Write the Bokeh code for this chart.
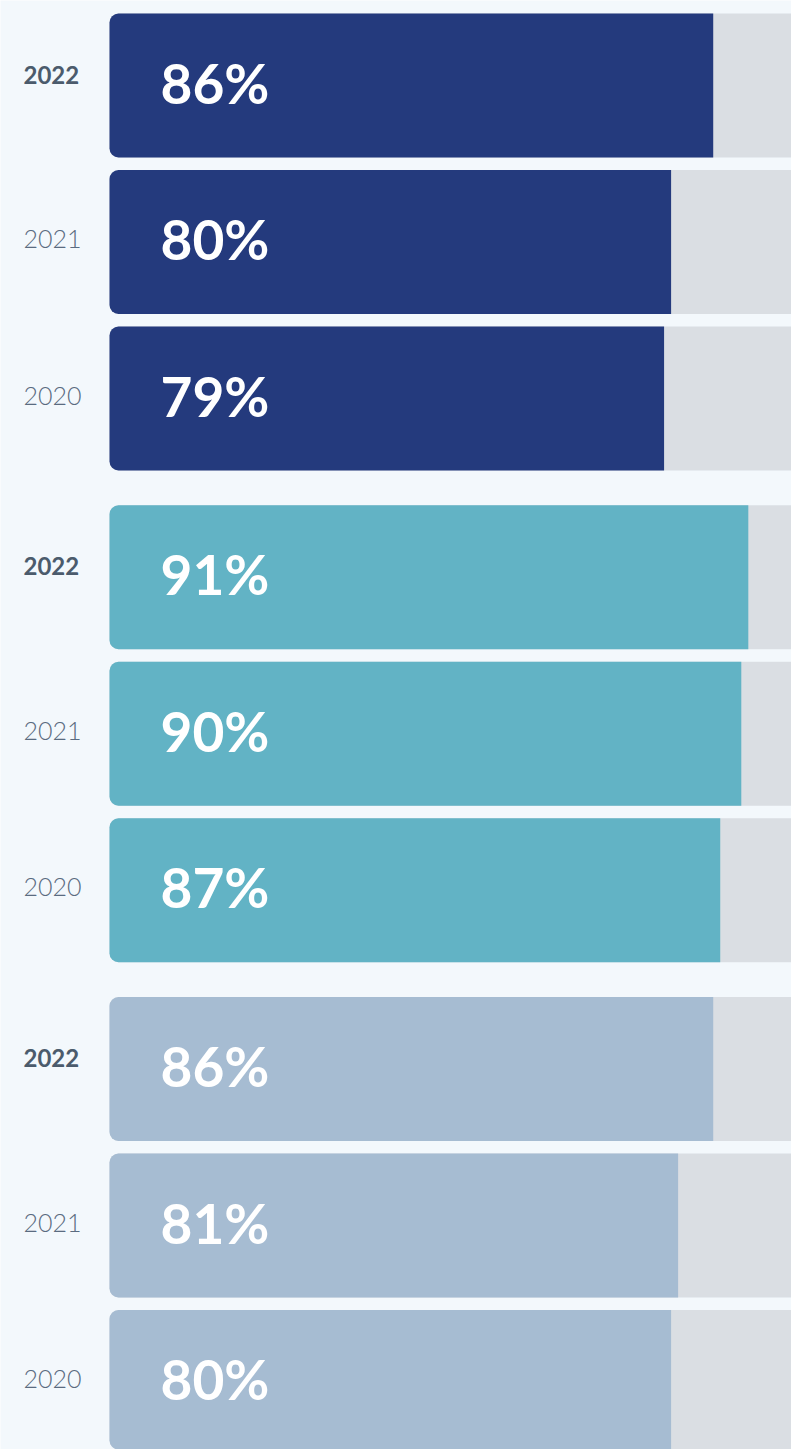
from bokeh.plotting import figure
from bokeh.models import ColumnDataSource, Range1d
from bokeh.core.properties import value
from bokeh.embed import file_html
from bokeh.resources import INLINE

# ---- data ----
groups = ["A", "B", "C"]
years = ["2022", "2021", "2020"]
values_a = [86, 80, 79]
values_b = [91, 90, 87]
values_c = [86, 81, 80]
group_colors = ["#243a7d", "#62b3c5", "#a6bcd2"]

# ---- layout constants (pixels) ----
W, H = 791, 1449
PX_PER = 7.02            # pixels per percent
ZERO_PX = 109            # x pixel of 0%
ROW0 = 85                # y of first bar centre
ROW_PITCH = 156.5
GROUP_PITCH = 491.75
BAR_H = 144

rows = []
for gi, vals in enumerate([values_a, values_b, values_c]):
    for ri, (yr, v) in enumerate(zip(years, vals)):
        rows.append(dict(
            y=ROW0 + gi * GROUP_PITCH + ri * ROW_PITCH,
            val=v,
            label=f"{v}%",
            year=yr,
            color=group_colors[gi],
        ))

def col(k, sel=lambda r: True):
    return [r[k] for r in rows if sel(r)]

src = ColumnDataSource(dict(
    y=col("y"), val=col("val"), label=col("label"), year=col("year"),
    color=col("color"), zero=[0] * len(rows), full=[100] * len(rows),
))
bold_src = ColumnDataSource(dict(
    y=col("y", lambda r: r["year"] == "2022"),
    year=col("year", lambda r: r["year"] == "2022"),
))
light_src = ColumnDataSource(dict(
    y=col("y", lambda r: r["year"] != "2022"),
    year=col("year", lambda r: r["year"] != "2022"),
))

p = figure(
    width=W, height=H,
    x_range=Range1d(-ZERO_PX / PX_PER, (W - ZERO_PX) / PX_PER),
    y_range=Range1d(H, 0),
    output_backend="svg", toolbar_location=None,
    min_border=0, outline_line_color=None,
    background_fill_color="#f3f8fc", border_fill_color="#f3f8fc",
)
p.axis.visible = False
p.grid.visible = False

# grey track
p.hbar(y="y", left="zero", right="full", height=BAR_H, source=src,
       fill_color="#dadee3", line_color=None, border_radius=(9, 0, 0, 9))
# value bars
p.hbar(y="y", left="zero", right="val", height=BAR_H, source=src,
       fill_color="color", line_color=None, border_radius=(9, 0, 0, 9))

# percent labels
p.text(x="zero", y="y", text="label", source=src, x_offset=51, y_offset=-3,
       text_color="white", text_font=value("Lato"), text_font_style="bold",
       text_font_size="55px", text_align="left", text_baseline="middle")

# year labels
p.text(x=0, y="y", text="year", source=bold_src,
       x_offset=-86, y_offset=-11,
       text_color="#4b5b6c", text_font=value("Lato"), text_font_style="bold",
       text_font_size="24px", text_align="left", text_baseline="middle")
p.text(x=0, y="y", text="year", source=light_src,
       x_offset=-86, y_offset=-3,
       text_color="#5a6b80", text_font=value("Lato Light"),
       text_font_size="25px", text_align="left", text_baseline="middle")

open("out.html", "w").write(file_html(p, INLINE))
